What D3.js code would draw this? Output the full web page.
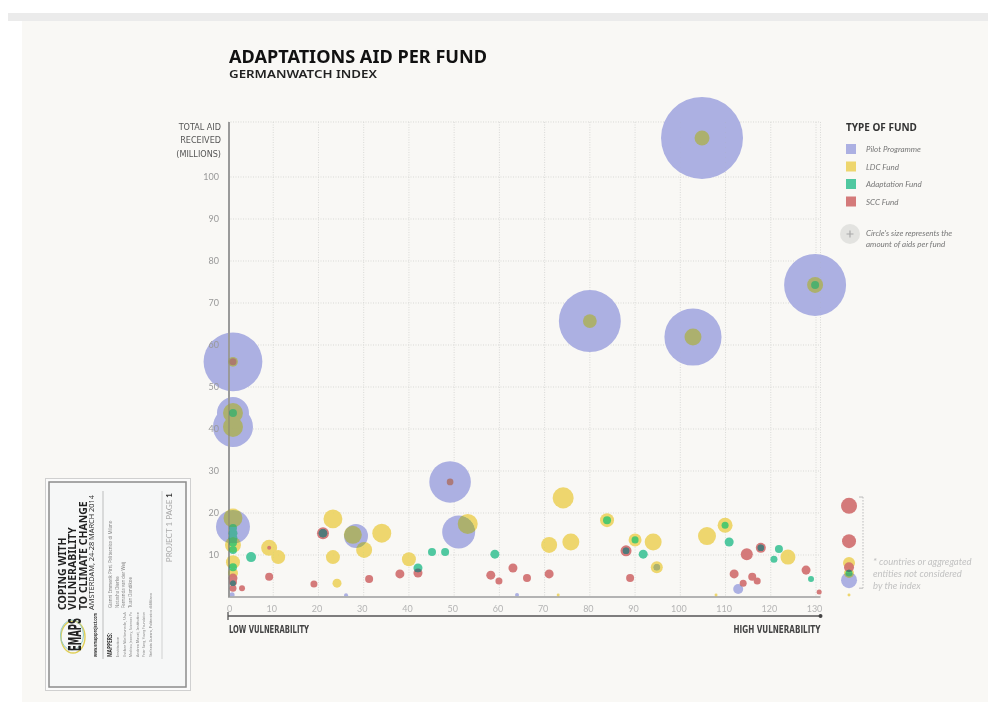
<!DOCTYPE html>
<html>
<head>
<meta charset="utf-8">
<script src="https://cdn.jsdelivr.net/npm/d3@7"></script>
<style>
  html, body { margin: 0; padding: 0; background: #fff; }
  svg { display: block; }
  .cond { font-family: "Liberation Sans Narrow", "DejaVu Sans Condensed", "Roboto", sans-serif; }
  .lato { font-family: Lato, "Open Sans", sans-serif; }
</style>
</head>
<body>
<div id="chart"></div>
<script>
// [vulnerability rank, total aid received (millions), fund amount]
// vulnerability null = country / aggregated entity not considered by the index
const pilotProgramme = [
  [104.8, 109.3, 105], [80.0, 65.7, 60], [102.8, 61.9, 51], [129.8, 74.3, 60],
  [1.1, 56.0, 54], [1.1, 43.8, 16], [1.1, 40.5, 25], [49.1, 27.4, 27],
  [51.0, 15.5, 17], [1.1, 16.7, 18], [28.3, 14.5, 9], [0.9, 0.5, 0.4],
  [26.1, 0.4, 0.25], [63.9, 0.5, 0.25], [112.8, 1.9, 1.56], [94.8, 7.1, 0.77],
  [null, 4.0, 4]
];
const ldcFund = [
  [104.8, 109.3, 3.5], [80.0, 65.7, 3], [102.8, 61.9, 4.5], [129.8, 74.3, 4],
  [1.1, 56.0, 1.5], [1.1, 43.8, 6.25], [1.1, 40.5, 6.25], [53.0, 17.4, 6.25],
  [1.1, 18.8, 5.6], [1.1, 12.4, 4], [1.1, 8.3, 3.06], [1.1, 5.7, 1.56],
  [9.1, 11.7, 4], [11.1, 9.5, 3.06], [23.2, 18.6, 5.6], [23.2, 9.5, 3.06],
  [24.1, 3.3, 1.27], [27.6, 14.8, 5.06], [30.1, 11.2, 4], [34.0, 15.2, 5.6],
  [40.0, 9.0, 3.06], [71.0, 12.4, 4], [73.0, 0.5, 0.14], [74.1, 23.6, 6.9],
  [75.8, 13.1, 4.5], [83.8, 18.3, 3.06], [90.0, 13.6, 2.64], [94.0, 13.1, 4.5],
  [94.8, 7.1, 2.25], [105.9, 14.5, 5.06], [107.9, 0.5, 0.14], [109.9, 17.1, 3.5],
  [123.8, 9.5, 3.5],
  [null, 8.1, 2.25], [null, 5.7, 1.56], [null, 0.5, 0.14]
];
const adaptationFund = [
  [129.8, 74.3, 1], [1.1, 43.8, 1], [1.1, 16.4, 1.0], [1.1, 15.2, 1.27],
  [1.1, 14.0, 1.27], [1.1, 12.9, 1.0], [1.1, 11.2, 1.0], [1.1, 7.1, 1.0],
  [1.1, 3.3, 0.56], [5.1, 9.5, 1.56], [21.0, 15.2, 1.27], [42.0, 6.9, 1.27],
  [45.1, 10.7, 1.0], [48.0, 10.7, 1.0], [59.0, 10.2, 1.27], [83.8, 18.3, 1.0],
  [88.0, 11.0, 0.77], [90.0, 13.6, 0.77], [91.8, 10.2, 1.27], [109.9, 17.1, 0.77],
  [110.8, 13.1, 1.27], [117.8, 11.7, 0.77], [121.8, 11.4, 1.0], [120.7, 9.0, 0.77],
  [128.9, 4.3, 0.56],
  [null, 5.7, 0.77]
];
const sccFund = [
  [1.1, 56.0, 0.77], [49.1, 27.4, 0.7], [1.1, 4.5, 1.27], [1.1, 3.6, 1.0],
  [1.1, 2.1, 0.77], [3.1, 2.1, 0.56], [9.1, 11.7, 0.25], [9.1, 4.8, 1.0],
  [19.0, 3.1, 0.77], [21.0, 15.2, 2.25], [31.2, 4.3, 1.0], [38.0, 5.5, 1.27],
  [42.0, 5.7, 1.27], [58.1, 5.2, 1.27], [59.9, 3.8, 0.77], [63.0, 6.9, 1.27],
  [66.1, 4.5, 1.0], [71.0, 5.5, 1.27], [88.0, 11.0, 1.9], [88.9, 4.5, 1.0],
  [111.9, 5.5, 1.27], [113.9, 3.3, 0.77], [114.7, 10.2, 2.25], [115.9, 4.8, 1.0],
  [117.0, 3.8, 0.77], [117.8, 11.7, 1.56], [127.8, 6.4, 1.27], [130.7, 1.2, 0.4],
  [null, 21.7, 4], [null, 13.3, 3.06], [null, 7.1, 1.56]
];

const funds = [
  {name: "Pilot Programme", data: pilotProgramme, color: "#acb0e2"},
  {name: "LDC Fund", data: ldcFund, color: "#eed66e"},
  {name: "Adaptation Fund", data: adaptationFund, color: "#50c8a0"},
  {name: "SCC Fund", data: sccFund, color: "#d47a7a"}
];

const xTicks = d3.range(0, 131, 10);
const yTicks = d3.range(10, 101, 10);
const notConsideredRange = [23.8, 2.1];
const footnote = ["* countries or aggregated", "entities not considered", "by the index"];
const mappersLeft = ["Institution", "Esther Weltevrede, UvA", "Mathieu Jacomy, Sciences Po",
  "Andrea Mauri, Institution", "Peter Sang, Young Foundation", "Stefania Guerra, Politecnico di Milano"];
const mappersRight = ["Gianni Emmerik Pirri, Politecnico di Milano", "Natasha Dierke",
  "Fernanda van der Weij", "Tuan Dandikoe"];

const W = 988, H = 702;
const X_MAX = 131, Y_MAX = 113.1, OUT_X = 137.3;

const svg = d3.select("#chart").append("svg").attr("width", W).attr("height", H);

// page
svg.append("rect").attr("x", 0).attr("y", 0).attr("width", W).attr("height", H).attr("fill", "#fff");
svg.append("rect").attr("x", 8).attr("y", 13).attr("width", W - 8).attr("height", 8).attr("fill", "#ebebeb");
svg.append("rect").attr("x", 22).attr("y", 21).attr("width", W - 22).attr("height", H - 21).attr("fill", "#f9f8f5");

const x = d3.scaleLinear().domain([0, 130]).range([228, 816]);
const y = d3.scaleLinear().domain([0, 100]).range([597, 177]);
const r = d3.scaleSqrt().domain([0, 100]).range([0, 40]);

// title
svg.append("text").attr("x", 229).attr("y", 62.5)
  .attr("font-family", "'Noto Sans', 'Open Sans', sans-serif").attr("font-weight", 700)
  .attr("font-size", 17.5).attr("fill", "#111")
  .attr("textLength", 258).attr("lengthAdjust", "spacingAndGlyphs")
  .text("ADAPTATIONS AID PER FUND");
svg.append("text").attr("x", 229).attr("y", 78)
  .attr("font-family", "'Noto Sans', 'Open Sans', sans-serif").attr("font-weight", 600)
  .attr("font-size", 11).attr("fill", "#222")
  .attr("textLength", 148).attr("lengthAdjust", "spacingAndGlyphs")
  .text("GERMANWATCH INDEX");

// grid
const grid = svg.append("g").attr("stroke", "#d9d9d6").attr("stroke-width", 1)
  .attr("stroke-dasharray", "1,1.5").attr("fill", "none");
grid.selectAll("line.v").data(xTicks.slice(1).concat([X_MAX])).join("line")
  .attr("x1", d => x(d)).attr("x2", d => x(d)).attr("y1", y(Y_MAX)).attr("y2", y(0));
grid.selectAll("line.h").data(yTicks.concat([Y_MAX])).join("line")
  .attr("class", "h")
  .attr("x1", x(0)).attr("x2", x(X_MAX)).attr("y1", d => y(d)).attr("y2", d => y(d));

// x axis labels
const xAxis = svg.append("g").attr("transform", `translate(0,${y(0)})`)
  .call(d3.axisBottom(x).tickValues(xTicks).tickSize(0).tickPadding(9));
xAxis.select(".domain").remove();
xAxis.selectAll("text").attr("class", "lato").attr("font-size", 9).attr("fill", "#b4b4b4")
  .attr("dx", d => d === 0 ? 1 : -2);

svg.append("line").attr("x1", x(0)).attr("x2", x(X_MAX)).attr("y1", y(0)).attr("y2", y(0))
  .attr("stroke", "#b3b3b3").attr("stroke-width", 2);
svg.append("line").attr("x1", x(0) + 1).attr("x2", x(0) + 1).attr("y1", y(Y_MAX)).attr("y2", y(0))
  .attr("stroke", "#9a9a9a").attr("stroke-width", 2);

const yTitle = svg.append("text").attr("class", "cond").attr("text-anchor", "end")
  .attr("font-size", 9).attr("fill", "#555");
["TOTAL AID", "RECEIVED", "(MILLIONS)"].forEach((t, i) => {
  yTitle.append("tspan").attr("x", 221).attr("y", 129.5 + i * 13.5).text(t);
});

// vulnerability arrow
const arrowY = 616;
svg.append("line").attr("x1", x(0)).attr("x2", x(X_MAX)).attr("y1", arrowY).attr("y2", arrowY)
  .attr("stroke", "#555").attr("stroke-width", 1.3);
svg.append("line").attr("x1", x(0)).attr("x2", x(0)).attr("y1", arrowY - 4).attr("y2", arrowY + 4)
  .attr("stroke", "#555").attr("stroke-width", 1.3);
svg.append("circle").attr("cx", x(X_MAX)).attr("cy", arrowY).attr("r", 2).attr("fill", "#444");
svg.append("text").attr("class", "cond").attr("x", x(0) + 1).attr("y", 633)
  .attr("font-size", 10).attr("font-weight", 700).attr("fill", "#444")
  .attr("textLength", 80).attr("lengthAdjust", "spacingAndGlyphs").text("LOW VULNERABILITY");
svg.append("text").attr("class", "cond").attr("x", x(X_MAX) - 87).attr("y", 633)
  .attr("font-size", 10).attr("font-weight", 700).attr("fill", "#444")
  .attr("textLength", 87).attr("lengthAdjust", "spacingAndGlyphs").text("HIGH VULNERABILITY");

// bracket for entities not considered
const bx = 863;
const bracket = svg.append("g").attr("stroke", "#bbb").attr("stroke-width", 1).attr("fill", "none");
bracket.append("line").attr("x1", bx).attr("x2", bx)
  .attr("y1", y(notConsideredRange[0])).attr("y2", y(notConsideredRange[1]))
  .attr("stroke-dasharray", "1.5,1.5");
notConsideredRange.forEach(v => {
  bracket.append("line").attr("x1", bx - 4).attr("x2", bx).attr("y1", y(v)).attr("y2", y(v));
});
const fn = svg.append("text").attr("class", "lato").attr("font-style", "italic")
  .attr("font-size", 9.5).attr("fill", "#c2c2c2");
footnote.forEach((t, i) => fn.append("tspan").attr("x", 873).attr("y", 565 + i * 11.8).text(t));

// bubbles: each fund layer darkens what lies below it
const px = d => d[0] === null ? x(OUT_X) : x(d[0]);
funds.forEach(f => {
  const g = svg.append("g").style("mix-blend-mode", "darken");
  g.selectAll("circle")
    .data(f.data.slice().sort((a, b) => b[2] - a[2]))
    .join("circle")
    .attr("cx", px)
    .attr("cy", d => y(d[1]))
    .attr("r", d => r(d[2]))
    .attr("fill", f.color);
});

// y axis labels, kept readable over the bubbles
const yAxis = svg.append("g").attr("transform", `translate(${x(0)},0)`)
  .style("mix-blend-mode", "darken")
  .call(d3.axisLeft(y).tickValues(yTicks).tickSize(0).tickPadding(9));
yAxis.select(".domain").remove();
yAxis.selectAll("text").attr("class", "lato").attr("font-size", 9).attr("fill", "#999");

// legend
const lg = svg.append("g");
lg.append("text").attr("x", 846).attr("y", 131)
  .attr("font-family", "'Noto Sans', 'Open Sans', sans-serif").attr("font-weight", 700)
  .attr("font-size", 10).attr("fill", "#333").text("TYPE OF FUND");
funds.forEach((f, i) => {
  const yy = 144 + i * 17.5;
  lg.append("rect").attr("x", 846).attr("y", yy).attr("width", 10).attr("height", 10).attr("fill", f.color);
  lg.append("text").attr("class", "lato").attr("x", 866).attr("y", yy + 8)
    .attr("font-style", "italic").attr("font-size", 8).attr("fill", "#777").text(f.name);
});
lg.append("circle").attr("cx", 850).attr("cy", 234).attr("r", 10).attr("fill", "#e3e3e0");
lg.append("path").attr("d", "M846.5,234H853.5M850,230.5V237.5").attr("stroke", "#aaa").attr("stroke-width", 1.2);
["Circle's size represents the", "amount of aids per fund"].forEach((t, i) => {
  lg.append("text").attr("class", "lato").attr("x", 866).attr("y", 236 + i * 10.5)
    .attr("font-style", "italic").attr("font-size", 8).attr("fill", "#777").text(t);
});

// EMAPS card (text runs bottom to top)
svg.append("rect").attr("x", 45.5).attr("y", 478.5).attr("width", 145).attr("height", 212)
  .attr("fill", "#fbfbfb").attr("stroke", "#d0d0d0");
svg.append("rect").attr("x", 49).attr("y", 482).attr("width", 137).attr("height", 205)
  .attr("fill", "#f6f7f7").attr("stroke", "#8c8c8c").attr("stroke-width", 1.5);
const card = svg.append("g").attr("transform", "translate(49,687) rotate(-90)");
card.append("ellipse").attr("cx", 50).attr("cy", 24).attr("rx", 16).attr("ry", 12)
  .attr("fill", "none").attr("stroke", "#e0cf55").attr("stroke-width", 1.4);
card.append("ellipse").attr("cx", 52).attr("cy", 23).attr("rx", 15).attr("ry", 11.5)
  .attr("fill", "none").attr("stroke", "#8fc9c4").attr("stroke-width", 1);
card.append("text").attr("class", "cond").attr("x", 36).attr("y", 32)
  .attr("font-size", 18).attr("font-weight", 700).attr("fill", "#222")
  .attr("textLength", 33).attr("lengthAdjust", "spacingAndGlyphs").text("EMAPS");
card.append("text").attr("x", 30).attr("y", 48)
  .attr("font-family", "'Noto Sans', sans-serif").attr("font-size", 5.5).attr("font-weight", 700)
  .attr("fill", "#333").attr("textLength", 44).attr("lengthAdjust", "spacingAndGlyphs")
  .text("www.emapsproject.com");
["COPING WITH", "VULNERABILITY", "TO CLIMATE CHANGE"].forEach((t, i) => {
  card.append("text").attr("x", 77).attr("y", 16.5 + i * 10.5)
    .attr("font-family", "'Noto Sans', sans-serif").attr("font-size", 10.5).attr("font-weight", 700)
    .attr("fill", "#222").text(t);
});
card.append("text").attr("x", 77).attr("y", 45)
  .attr("font-family", "'Noto Sans', sans-serif").attr("font-size", 6.3)
  .attr("fill", "#333").attr("textLength", 115).attr("lengthAdjust", "spacingAndGlyphs")
  .text("AMSTERDAM, 24-28 MARCH 2014");
card.append("line").attr("x1", 28).attr("x2", 196).attr("y1", 54).attr("y2", 54)
  .attr("stroke", "#999").attr("stroke-width", 0.6);
card.append("text").attr("x", 30).attr("y", 63)
  .attr("font-family", "'Noto Sans', sans-serif").attr("font-size", 6.5).attr("font-weight", 700)
  .attr("fill", "#333").attr("textLength", 24).attr("lengthAdjust", "spacingAndGlyphs").text("MAPPERS:");
mappersLeft.forEach((t, i) => {
  const last = i === mappersLeft.length - 1;
  card.append("text").attr("x", 30).attr("y", 70 + i * 6.5)
    .attr("font-family", "'Noto Sans', sans-serif").attr("font-size", 4.2).attr("fill", "#8a8a8a")
    .text(t)
    .each(function () {
      const maxLen = last ? 64 : 45;
      if (this.getComputedTextLength() > maxLen) {
        d3.select(this).attr("textLength", maxLen).attr("lengthAdjust", "spacingAndGlyphs");
      }
    });
});
mappersRight.forEach((t, i) => {
  card.append("text").attr("x", 79).attr("y", 63 + i * 6.5)
    .attr("font-family", "'Noto Sans', sans-serif").attr("font-size", 4.4).attr("fill", "#8a8a8a").text(t);
});
card.append("line").attr("x1", 28).attr("x2", 196).attr("y1", 113).attr("y2", 113)
  .attr("stroke", "#bbb").attr("stroke-width", 0.6);
const proj = card.append("text").attr("x", 194).attr("y", 123).attr("text-anchor", "end")
  .attr("class", "lato").attr("font-size", 8).attr("fill", "#aaa");
proj.append("tspan").text("PROJECT 1 PAGE ");
proj.append("tspan").attr("font-weight", 700).attr("fill", "#333").text("1");
</script>
</body>
</html>
